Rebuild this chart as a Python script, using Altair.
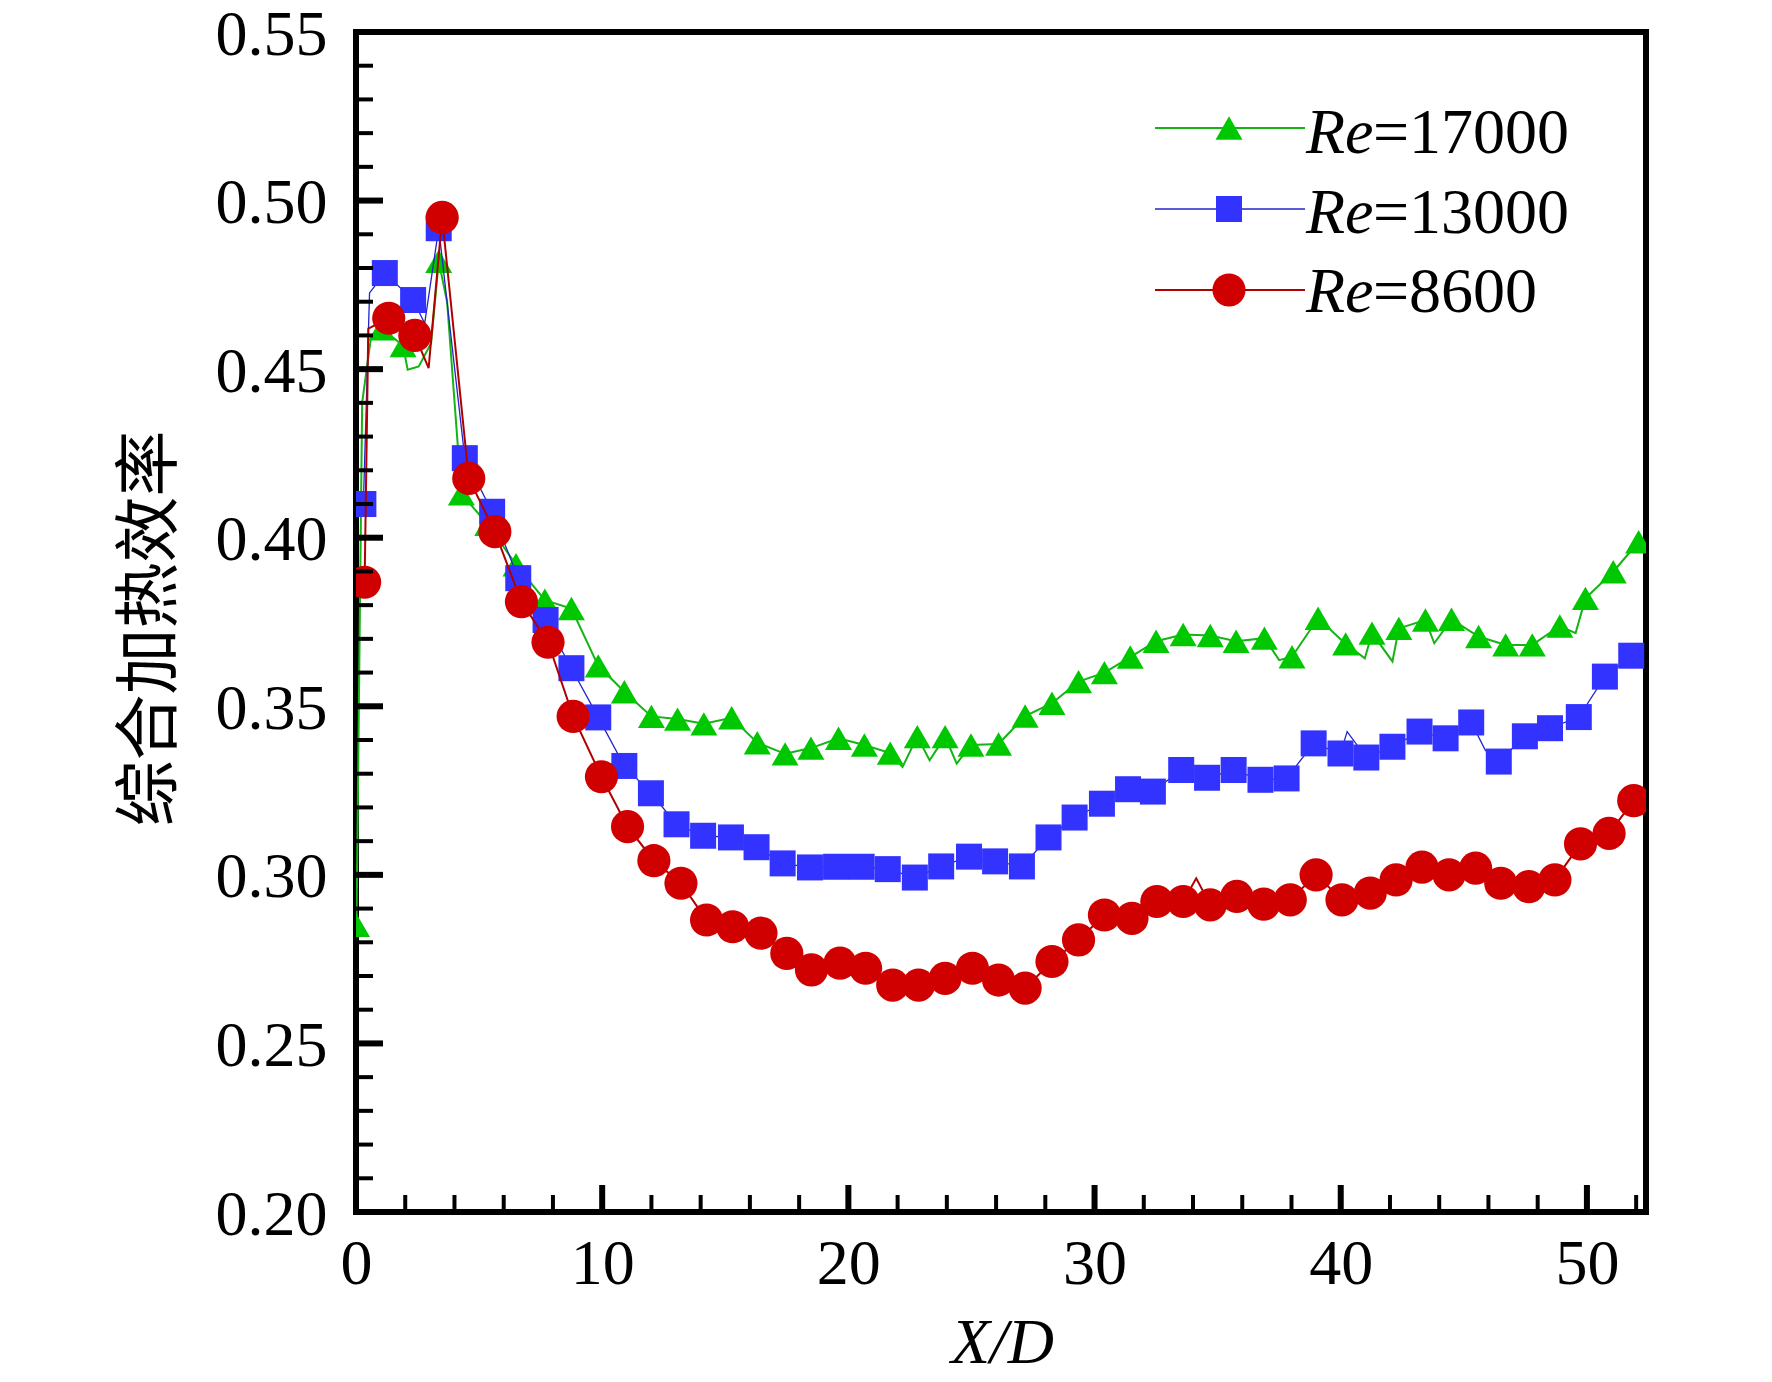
import altair as alt
import pandas as pd

# ---------------- data ----------------
g_x = [0.02, 1.05, 1.91, 3.36, 4.28, 5.35, 6.5, 7.67, 8.75, 9.84, 10.9, 12.0, 13.06, 14.13,
       15.26, 16.3, 17.43, 18.48, 19.6, 20.65, 21.7, 22.8, 23.93, 24.98, 26.1, 27.18, 28.27,
       29.35, 30.4, 31.45, 32.5, 33.6, 34.7, 35.75, 36.9, 38.02, 39.08, 40.2, 41.27, 42.36,
       43.44, 44.5, 45.6, 46.7, 47.78, 48.9, 49.94, 51.07, 52.1]
g_y = [0.285, 0.462, 0.457, 0.482, 0.413, 0.404, 0.392, 0.3815, 0.379, 0.362, 0.3543, 0.347,
       0.3462, 0.3448, 0.3466, 0.3392, 0.3359, 0.3376, 0.3405, 0.3385, 0.3361, 0.341, 0.341,
       0.3385, 0.3388, 0.3471, 0.3509, 0.3573, 0.360, 0.3646, 0.3693, 0.3713, 0.371, 0.3693,
       0.3702, 0.3647, 0.3761, 0.3685, 0.3717, 0.3731, 0.3756, 0.3758, 0.3707, 0.3682, 0.3682,
       0.3738, 0.382, 0.3899, 0.3988]

b_x = [0.3, 1.17, 2.32, 3.36, 4.42, 5.53, 6.59, 7.7, 8.75, 9.84, 10.9, 11.98, 13.02, 14.1,
       15.23, 16.27, 17.33, 18.44, 19.5, 20.54, 21.6, 22.7, 23.77, 24.9, 25.96, 27.05, 28.13,
       29.19, 30.3, 31.36, 32.37, 33.52, 34.57, 35.65, 36.74, 37.8, 38.9, 39.99, 41.04, 42.1,
       43.2, 44.26, 45.3, 46.42, 47.48, 48.5, 49.67, 50.73, 51.8]
b_y = [0.41, 0.4785, 0.4705, 0.4918, 0.4236, 0.4077, 0.388, 0.3756, 0.3613, 0.3467, 0.3323,
       0.3242, 0.315, 0.3116, 0.3111, 0.3082, 0.3034, 0.3022, 0.3024, 0.3024, 0.3017, 0.2992,
       0.3025, 0.3054, 0.304, 0.3025, 0.3111, 0.317, 0.3211, 0.3254, 0.3247, 0.3311, 0.3288,
       0.3311, 0.3282, 0.3286, 0.339, 0.336, 0.3348, 0.338, 0.3425, 0.3405, 0.3452, 0.3336,
       0.3411, 0.3435, 0.3468, 0.3588, 0.365]

r_x = [0.35, 1.33, 2.39, 3.5, 4.58, 5.64, 6.72, 7.8, 8.82, 9.97, 11.03, 12.1, 13.2, 14.24,
       15.3, 16.45, 17.5, 18.5, 19.66, 20.7, 21.8, 22.85, 23.93, 25.04, 26.1, 27.18, 28.27,
       29.35, 30.4, 31.52, 32.53, 33.6, 34.7, 35.78, 36.87, 37.95, 39.0, 40.05, 41.2, 42.25,
       43.3, 44.4, 45.48, 46.5, 47.64, 48.7, 49.74, 50.9, 51.9]
r_y = [0.3868, 0.4651, 0.460, 0.495, 0.4176, 0.4018, 0.381, 0.369, 0.347, 0.3291, 0.3143,
       0.3042, 0.2975, 0.2866, 0.2846, 0.2827, 0.2767, 0.2718, 0.2738, 0.2723, 0.2673, 0.2673,
       0.2693, 0.2723, 0.2688, 0.2664, 0.2743, 0.2807, 0.2881, 0.2871, 0.2921, 0.2921, 0.2911,
       0.2936, 0.2913, 0.2926, 0.300, 0.2926, 0.2946, 0.2985, 0.3023, 0.300, 0.302, 0.2975,
       0.2965, 0.2985, 0.3092, 0.3123, 0.322]

# extra points of the (noisy) curves between the markers
g_lx = [0.25, 0.6, 2.1, 2.55, 3.05, 3.7, 22.2, 23.3, 24.4, 37.5, 40.98, 42.1, 43.8, 49.54]
g_ly = [0.44, 0.459, 0.4498, 0.4508, 0.4577, 0.47, 0.332, 0.334, 0.333, 0.3637, 0.3642,
        0.3633, 0.3687, 0.3717]
b_lx = [0.55, 2.79, 40.26, 45.87]
b_ly = [0.4726, 0.4636, 0.3425, 0.337]
r_lx = [0.5, 2.95, 34.13]
r_ly = [0.462, 0.4503, 0.299]

x_labels = [0, 10, 20, 30, 40, 50]
y_labels = [0.20, 0.25, 0.30, 0.35, 0.40, 0.45, 0.50, 0.55]
x_major = [10, 20, 30, 40, 50]
x_minor = [2, 4, 6, 8, 12, 14, 16, 18, 22, 24, 26, 28, 32, 34, 36, 38, 42, 44, 46, 48, 52]
y_major = [0.25, 0.30, 0.35, 0.40, 0.45, 0.50]
y_minor = [0.21, 0.22, 0.23, 0.24, 0.26, 0.27, 0.28, 0.29, 0.31, 0.32, 0.33, 0.34,
           0.36, 0.37, 0.38, 0.39, 0.41, 0.42, 0.43, 0.44, 0.46, 0.47, 0.48, 0.49,
           0.51, 0.52, 0.53, 0.54]

series_names = ["=17000", "=13000", "=8600"]

# ---------------- styling ----------------
W, H = 1290, 1180
SERIF = "Liberation Serif"
xs = alt.Scale(domain=[0, 52.4], nice=False, zero=False)
ys = alt.Scale(domain=[0.2, 0.55], nice=False, zero=False)

styles = [
    dict(mcol="#00C800", lcol="#14B414", lw=2, shape="triangle-up", size=729),
    dict(mcol="#3333FF", lcol="#2424C8", lw=1.3, shape="square", size=676),
    dict(mcol="#D00000", lcol="#B00000", lw=2, shape="circle", size=1100),
]

x_axis = alt.Axis(values=x_labels, title="X/D", labelFont=SERIF, labelFontSize=64,
                  labelColor="black", labelPadding=20, labelBaseline="top",
                  ticks=False, domain=False, grid=False,
                  labelFlush=False, labelOverlap=False,
                  titleFont=SERIF, titleFontStyle="italic", titleFontSize=64,
                  titleFontWeight="normal", titleColor="black",
                  titleX=646, titleY=131, titleBaseline="middle", titleAlign="center")
y_axis = alt.Axis(values=y_labels, format=".2f", title="综合加热效率", labelFont=SERIF,
                  labelFontSize=64, labelColor="black", labelPadding=29, labelOffset=3,
                  ticks=False, domain=False, grid=False,
                  labelFlush=False, labelOverlap=False,
                  titleFont="Noto Sans CJK SC", titleFontSize=66,
                  titleFontWeight="normal", titleColor="black", titleAngle=270,
                  titleX=-206, titleY=596, titleBaseline="middle", titleAlign="center")


def X(field):
    return alt.X(field, type="quantitative", scale=xs, axis=x_axis, title="X/D")


def Y(field):
    return alt.Y(field, type="quantitative", scale=ys, axis=y_axis, title="综合加热效率")


layers = []
series = [(g_x, g_y, g_lx, g_ly), (b_x, b_y, b_lx, b_ly), (r_x, r_y, r_lx, r_ly)]
for (mx, my, lx, ly), st in zip(series, styles):
    pts = pd.DataFrame({"x": mx, "y": my})
    line_df = pd.DataFrame({"x": list(mx) + list(lx), "y": list(my) + list(ly)})
    line = alt.Chart(line_df).mark_line(color=st["lcol"], strokeWidth=st["lw"], clip=True).encode(
        x=X("x"), y=Y("y"))
    marks = alt.Chart(pts).mark_point(shape=st["shape"], filled=True, size=st["size"],
                                      color=st["mcol"], opacity=1, strokeWidth=0, clip=True).encode(
        x=X("x"), y=Y("y"))
    layers += [line, marks]


# inward ticks
def xticks(vals, length, width):
    return alt.Chart(pd.DataFrame({"x": vals})).mark_rule(color="black", strokeWidth=width).encode(
        x=X("x"), y=alt.value(H), y2=alt.value(H - length))


def yticks(vals, length, width):
    return alt.Chart(pd.DataFrame({"y": vals})).mark_rule(color="black", strokeWidth=width).encode(
        y=Y("y"), x=alt.value(0), x2=alt.value(length))


layers += [xticks(x_major, 27, 6), xticks(x_minor, 17, 4),
           yticks(y_major, 27, 6), yticks(y_minor, 17, 4)]

# legend (drawn manually so "Re" can be italic)
one = pd.DataFrame({"a": [0]})
row_line_y = [96, 177, 258]
row_text_y = [121, 201, 280]
for i, st in enumerate(styles):
    layers.append(alt.Chart(one).mark_rule(color=st["lcol"], strokeWidth=st["lw"]).encode(
        x=alt.value(799), x2=alt.value(949), y=alt.value(row_line_y[i])))
    layers.append(alt.Chart(one).mark_point(shape=st["shape"], filled=True, size=st["size"],
                                            color=st["mcol"], opacity=1, strokeWidth=0).encode(
        x=alt.value(873), y=alt.value(row_line_y[i])))
    layers.append(alt.Chart(one).mark_text(text="Re", font=SERIF, fontStyle="italic", fontSize=64,
                                           align="left", baseline="alphabetic", color="black").encode(
        x=alt.value(950), y=alt.value(row_text_y[i])))
    layers.append(alt.Chart(one).mark_text(text=series_names[i], font=SERIF, fontSize=64,
                                           align="left", baseline="alphabetic", color="black").encode(
        x=alt.value(1017), y=alt.value(row_text_y[i])))

chart = alt.layer(*layers).properties(
    width=W, height=H,
    autosize=alt.AutoSizeParams(type="none"),
    padding={"left": 348, "top": 24, "right": 118, "bottom": 162},
    background="white",
).configure_view(stroke="black", strokeWidth=6)

chart.save("out.html", embed_options={"renderer": "svg", "actions": False})
